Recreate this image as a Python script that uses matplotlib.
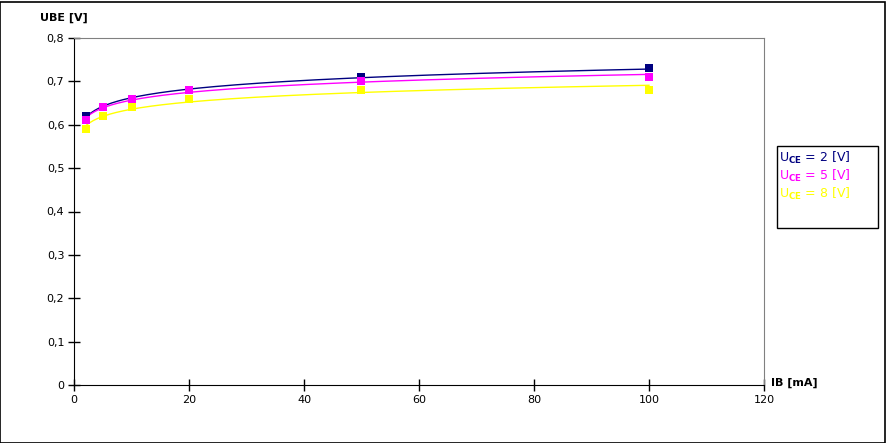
import numpy as np
import matplotlib
matplotlib.use('Agg')
import matplotlib.pyplot as plt
from matplotlib.patches import Rectangle
from matplotlib.ticker import FuncFormatter

plt.rcParams['font.family'] = ['DejaVu Sans']

# IB [mA]
ib = [2, 5, 10, 20, 50, 100]
# UBE [V] per UCE
ube_2 = [0.62, 0.64, 0.66, 0.68, 0.71, 0.73]
ube_5 = [0.61, 0.64, 0.66, 0.68, 0.70, 0.71]
ube_8 = [0.59, 0.62, 0.64, 0.66, 0.68, 0.68]
series_labels = ['2', '5', '8']
colors = ['#000080', '#ff00ff', '#ffff00']

fig = plt.figure(figsize=(8.87, 4.43), dpi=100)
ax = fig.add_axes([74 / 887, 58 / 443, 690 / 887, 347 / 443])

xs = np.array(ib, dtype=float)
xfit = np.linspace(min(ib), max(ib), 300)
for ys, col, lab in zip([ube_2, ube_5, ube_8], colors, series_labels):
    # logarithmische Trendlinie
    b, a = np.polyfit(np.log(xs), ys, 1)
    ax.plot(xfit, a + b * np.log(xfit), color=col, linewidth=1.0, zorder=2)
    ax.plot(ib, ys, linestyle='none', marker='s', markersize=6.3, color=col,
            markeredgewidth=0, zorder=3)

ax.set_xlim(0, 120)
ax.set_ylim(0, 0.8)
ax.set_xticks(np.arange(0, 121, 20))
ax.set_yticks(np.arange(0, 0.81, 0.1))
ax.yaxis.set_major_formatter(FuncFormatter(lambda v, p: '0' if v == 0 else f'{v:.1f}'.replace('.', ',')))
ax.tick_params(direction='inout', length=8, width=1, labelsize=8, pad=3)
for s in ['top', 'right']:
    ax.spines[s].set_color('#808080')
for s in ['left', 'bottom']:
    ax.spines[s].set_color('black')

fig.text(40 / 887, 1 - 18 / 443, 'UBE [V]', fontsize=8, fontweight='bold', va='center', ha='left')
fig.text(771 / 887, 1 - 383 / 443, 'IB [mA]', fontsize=8, fontweight='bold', va='center', ha='left')

# Legende
fig.add_artist(Rectangle((777 / 887, 1 - 228 / 443), 101 / 887, 82 / 443,
                         transform=fig.transFigure, fill=False, edgecolor='black', linewidth=1))
for i, (col, lab) in enumerate(zip(colors, series_labels)):
    fig.text(779 / 887, 1 - (158 + 18 * i) / 443, f'U$_{{\\mathbf{{CE}}}}$ = {lab} [V]',
             color=col, fontsize=9, va='center', ha='left')

# Rahmen
fig.add_artist(Rectangle((0.5 / 887, 0.5 / 443), 885 / 887, 441 / 443,
                         transform=fig.transFigure, fill=False, edgecolor='black', linewidth=1.2))

fig.savefig('out.png', dpi=100)
